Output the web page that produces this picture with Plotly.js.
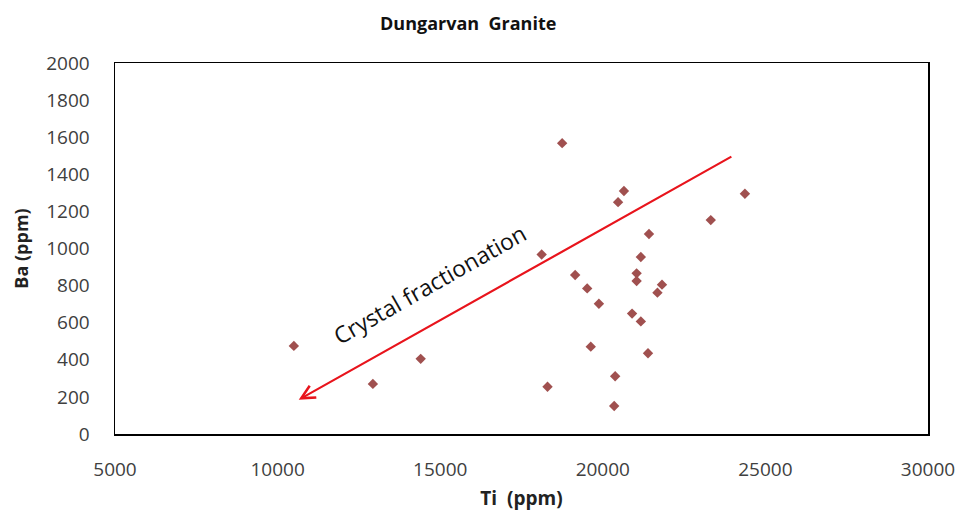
<!DOCTYPE html>
<html>
<head>
<meta charset="utf-8">
<script src="https://cdn.plot.ly/plotly-3.0.1.min.js"></script>
<style>html,body{margin:0;padding:0;background:#fff;}#chart{width:967px;height:527px;}</style>
</head>
<body>
<div id="chart"></div>
<script>
// Ti (ppm) vs Ba (ppm) — Dungarvan Granite samples
const tiPpm = [10500, 12930, 14400, 18300, 18120, 18750, 20650, 20470, 24370, 23320,
               21420, 21170, 19150, 21040, 21040, 19520, 21820, 21680, 19880, 20900,
               21170, 19630, 21390, 20380, 20350];
const baPpm = [475, 270, 405, 255, 968, 1568, 1310, 1250, 1295, 1153,
               1078, 954, 857, 866, 825, 785, 805, 762, 702, 649,
               607, 471, 435, 311, 151];
// Crystal fractionation trend arrow (tail -> head)
const arrowTi = [24000, 10650];
const arrowBa = [1500, 185];
const arrowLabel = "Crystal fractionation";
const labelPos = [14680, 810];

const fontFam = "'Open Sans', 'DejaVu Sans', sans-serif";
const data = [{
  type: 'scatter', mode: 'markers', x: tiPpm, y: baPpm,
  marker: {symbol: 'diamond', size: 8, color: '#A0504F'},
  hoverinfo: 'x+y', showlegend: false
}];
const plotL = 115, plotR = 39, plotT = 63, plotB = 93;
const layout = {
  width: 967, height: 527,
  margin: {l: plotL, r: plotR, t: plotT, b: plotB},
  paper_bgcolor: '#fff', plot_bgcolor: '#fff',
  font: {family: fontFam, color: '#404040', size: 19},
  showlegend: false,
  xaxis: {
    range: [5000, 30000], dtick: 5000, tick0: 5000, tickformat: 'd',
    showgrid: false, zeroline: false, showline: true, mirror: true,
    linecolor: '#000', linewidth: 1.5, ticks: '', ticklabelstandoff: 18,
    tickfont: {size: 19, color: '#404040'},
    title: {text: '<b>Ti&nbsp;&nbsp;(ppm)</b>', font: {size: 19, color: '#222'}, standoff: 10}
  },
  yaxis: {
    range: [0, 2000], dtick: 200, tickformat: 'd',
    showgrid: false, zeroline: false, showline: true, mirror: true,
    linecolor: '#000', linewidth: 1.5, ticks: '', ticklabelstandoff: 20,
    tickfont: {size: 19, color: '#404040'},
    title: {text: '<b>Ba (ppm)</b>', font: {size: 18, color: '#222'}, standoff: 13}
  },
  annotations: [
    {
      x: arrowTi[1], y: arrowBa[1], ax: arrowTi[0], ay: arrowBa[0],
      xref: 'x', yref: 'y', axref: 'x', ayref: 'y',
      showarrow: true, arrowhead: 5, arrowsize: 1.2, arrowwidth: 2.2,
      arrowcolor: '#E8141C', text: ''
    },
    {
      x: labelPos[0], y: labelPos[1], xref: 'x', yref: 'y',
      text: arrowLabel, showarrow: false, textangle: -29.5,
      font: {family: fontFam, size: 23, color: '#111'}
    },
    {
      x: (468 - plotL) / (967 - plotL - plotR),
      y: 1 + (plotT - 23) / (527 - plotT - plotB),
      xref: 'paper', yref: 'paper', xanchor: 'center', yanchor: 'middle',
      showarrow: false,
      text: '<b>Dungarvan&nbsp;&nbsp;Granite</b>',
      font: {family: fontFam, size: 18, color: '#111'}
    }
  ]
};
Plotly.newPlot('chart', data, layout, {displayModeBar: false, staticPlot: true});
</script>
</body>
</html>
